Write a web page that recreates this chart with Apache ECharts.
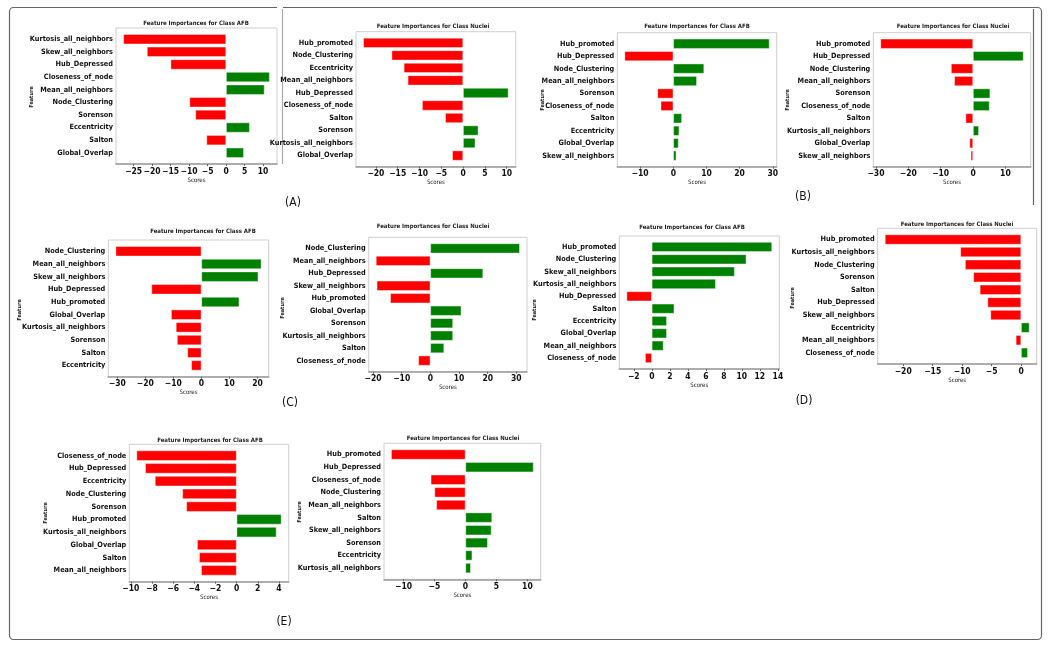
<!DOCTYPE html>
<html>
<head>
<meta charset="utf-8">
<script src="https://cdn.jsdelivr.net/npm/echarts@6/dist/echarts.min.js"></script>
<style>html,body{margin:0;padding:0;background:#fff;}#c{width:1050px;height:648px;}</style>
</head>
<body>
<div id="c"></div>
<script>
// ---- data ----
const A_AFB_cats = ['Kurtosis_all_neighbors','Skew_all_neighbors','Hub_Depressed','Closeness_of_node','Mean_all_neighbors','Node_Clustering','Sorenson','Eccentricity','Salton','Global_Overlap'];
const A_AFB_vals = [-27.8,-21.4,-15.0,11.8,10.4,-9.9,-8.3,6.4,-5.3,4.8];
const A_NUC_cats = ['Hub_promoted','Node_Clustering','Eccentricity','Mean_all_neighbors','Hub_Depressed','Closeness_of_node','Salton','Sorenson','Kurtosis_all_neighbors','Global_Overlap'];
const A_NUC_vals = [-22.9,-16.4,-13.6,-12.7,10.4,-9.4,-4.1,3.5,2.8,-2.5];
const B_AFB_cats = ['Hub_promoted','Hub_Depressed','Node_Clustering','Mean_all_neighbors','Sorenson','Closeness_of_node','Salton','Eccentricity','Global_Overlap','Skew_all_neighbors'];
const B_AFB_vals = [29.0,-14.7,9.3,7.1,-4.8,-3.8,2.6,1.8,1.6,0.9];
const B_NUC_cats = ['Hub_promoted','Hub_Depressed','Node_Clustering','Mean_all_neighbors','Sorenson','Closeness_of_node','Salton','Kurtosis_all_neighbors','Global_Overlap','Skew_all_neighbors'];
const B_NUC_vals = [-28.6,15.6,-6.8,-5.8,5.3,5.1,-2.3,1.8,-1.1,-0.7];
const C_AFB_cats = ['Node_Clustering','Mean_all_neighbors','Skew_all_neighbors','Hub_Depressed','Hub_promoted','Global_Overlap','Kurtosis_all_neighbors','Sorenson','Salton','Eccentricity'];
const C_AFB_vals = [-30.6,21.4,20.3,-17.8,13.5,-10.8,-9.1,-8.7,-5.0,-3.6];
const C_NUC_cats = ['Node_Clustering','Mean_all_neighbors','Hub_Depressed','Skew_all_neighbors','Hub_promoted','Global_Overlap','Sorenson','Kurtosis_all_neighbors','Salton','Closeness_of_node'];
const C_NUC_vals = [31.2,-19.0,18.4,-18.7,-14.0,10.8,7.9,7.9,4.8,-4.2];
const D_AFB_cats = ['Hub_promoted','Node_Clustering','Skew_all_neighbors','Kurtosis_all_neighbors','Hub_Depressed','Salton','Eccentricity','Global_Overlap','Mean_all_neighbors','Closeness_of_node'];
const D_AFB_vals = [13.35,10.5,9.2,7.1,-2.8,2.5,1.67,1.67,1.3,-0.74];
const D_NUC_cats = ['Hub_promoted','Kurtosis_all_neighbors','Node_Clustering','Sorenson','Salton','Hub_Depressed','Skew_all_neighbors','Eccentricity','Mean_all_neighbors','Closeness_of_node'];
const D_NUC_vals = [-23.1,-10.3,-9.5,-8.1,-7.0,-5.7,-5.2,1.42,-0.9,1.14];
const E_AFB_cats = ['Closeness_of_node','Hub_Depressed','Eccentricity','Node_Clustering','Sorenson','Hub_promoted','Kurtosis_all_neighbors','Global_Overlap','Salton','Mean_all_neighbors'];
const E_AFB_vals = [-9.46,-8.64,-7.72,-5.13,-4.75,4.24,3.77,-3.73,-3.54,-3.35];
const E_NUC_cats = ['Hub_promoted','Hub_Depressed','Closeness_of_node','Node_Clustering','Mean_all_neighbors','Salton','Skew_all_neighbors','Sorenson','Eccentricity','Kurtosis_all_neighbors'];
const E_NUC_vals = [-12.0,11.0,-5.6,-5.0,-4.7,4.3,4.2,3.6,1.1,0.86];

const A_AFB_ticks = [-25,-20,-15,-10,-5,0,5,10];
const A_NUC_ticks = [-20,-15,-10,-5,0,5,10];
const B_AFB_ticks = [-10,0,10,20,30];
const B_NUC_ticks = [-30,-20,-10,0,10];
const C_AFB_ticks = [-30,-20,-10,0,10,20];
const C_NUC_ticks = [-20,-10,0,10,20,30];
const D_AFB_ticks = [-2,0,2,4,6,8,10,12,14];
const D_NUC_ticks = [-20,-15,-10,-5,0];
const E_AFB_ticks = [-10,-8,-6,-4,-2,0,2,4];
const E_NUC_ticks = [-10,-5,0,5,10];

const TITLE_AFB = 'Feature Importances for Class AFB';
const TITLE_NUC = 'Feature Importances for Class Nuclei';
const panelLabels = ['(A)','(B)','(C)','(D)','(E)'];

// ---- layout ----
const FONT = "'DejaVu Sans Condensed','Liberation Sans Narrow','Liberation Sans',sans-serif";
const panels = [
  {cats:A_AFB_cats, vals:A_AFB_vals, ticks:A_AFB_ticks, title:TITLE_AFB, box:[116,28,277,164], tt:[196,23.5], feat:[32,97]},
  {cats:A_NUC_cats, vals:A_NUC_vals, ticks:A_NUC_ticks, title:TITLE_NUC, box:[356,31.7,515.7,166.7], tt:[433,26], feat:null},
  {cats:B_AFB_cats, vals:B_AFB_vals, ticks:B_AFB_ticks, title:TITLE_AFB, box:[617.3,32.7,776.7,166.7], tt:[697,26.5], feat:[543,100]},
  {cats:B_NUC_cats, vals:B_NUC_vals, ticks:B_NUC_ticks, title:TITLE_NUC, box:[873.3,32.7,1030.7,166.7], tt:[953,26], feat:[788,100]},
  {cats:C_AFB_cats, vals:C_AFB_vals, ticks:C_AFB_ticks, title:TITLE_AFB, box:[108.3,240,268.7,376.7], tt:[203,231], feat:[20,310]},
  {cats:C_NUC_cats, vals:C_NUC_vals, ticks:C_NUC_ticks, title:TITLE_NUC, box:[368.7,237.3,527,371.7], tt:[433,226], feat:[283,308]},
  {cats:D_AFB_cats, vals:D_AFB_vals, ticks:D_AFB_ticks, title:TITLE_AFB, box:[619.3,236,779.3,369], tt:[692,227.5], feat:[535,310]},
  {cats:D_NUC_cats, vals:D_NUC_vals, ticks:D_NUC_ticks, title:TITLE_NUC, box:[877.7,228.3,1036.7,364], tt:[957,224], feat:[793,298]},
  {cats:E_AFB_cats, vals:E_AFB_vals, ticks:E_AFB_ticks, title:TITLE_AFB, box:[129.3,444.3,288.7,581.7], tt:[210,440], feat:[46,513]},
  {cats:E_NUC_cats, vals:E_NUC_vals, ticks:E_NUC_ticks, title:TITLE_NUC, box:[384,443.3,540.7,579.3], tt:[463,438.5], feat:[300,512]}
];
const labelPos = [[293,203],[803,197],[290,403],[804,401],[284,622]];

const fmt = v => v < 0 ? '\u2212' + Math.abs(v) : String(v);
const grid = [], xAxis = [], yAxis = [], series = [], graphic = [];

panels.forEach((p, i) => {
  const [l, t, r, b] = p.box;
  const W = r - l, H = b - t;
  const g = H * 0.39 / 10.78;
  const lo = Math.min(0, ...p.vals), hi = Math.max(0, ...p.vals);
  const pad = 0.05 * (hi - lo);
  // frame grid
  const fi = grid.length;
  grid.push({left:l, top:t, width:W, height:H, show:true, backgroundColor:'#fff', borderColor:'#cfcfcf', borderWidth:1, z:0});
  xAxis.push({gridIndex:fi, type:'value', position:'top', min:0, max:1, axisLine:{show:true, lineStyle:{color:'#9a9a9a', width:1.6}}, axisTick:{show:false}, axisLabel:{show:false}, splitLine:{show:false}});
  yAxis.push({gridIndex:fi, type:'value', show:false, min:0, max:1});
  // data grid
  const di = grid.length;
  grid.push({left:l, top:t + g, width:W, height:H - 2 * g, show:false});
  xAxis.push({gridIndex:di, type:'value', min:lo - pad, max:hi + pad, offset:g,
    axisLine:{show:false}, splitLine:{show:false},
    axisTick:{show:true, customValues:p.ticks, length:2, lineStyle:{color:'#666'}},
    axisLabel:{customValues:p.ticks, formatter:fmt, margin:3, fontFamily:FONT, fontWeight:'bold', fontSize:8.5, color:'#111'},
    name:'Scores', nameLocation:'middle', nameGap:13, nameTextStyle:{fontFamily:FONT, fontSize:6, color:'#222'}});
  yAxis.push({gridIndex:di, type:'category', inverse:true, data:p.cats,
    axisLine:{show:false}, axisTick:{show:false},
    axisLabel:{margin:3, fontFamily:FONT, fontWeight:'bold', fontSize:7.3, color:'#111'}});
  series.push({type:'bar', xAxisIndex:di, yAxisIndex:di, barWidth:'80%',
    data:p.vals.map(v => ({value:v, itemStyle:{color: v < 0 ? '#ff0000' : '#008000'}})),
    itemStyle:{borderColor:'rgba(255,255,255,0.7)', borderWidth:0.6}, silent:true, animation:false});
  graphic.push({type:'text', x:p.tt[0], y:p.tt[1], style:{text:p.title, font:'bold 6px ' + FONT, fill:'#222', textAlign:'center', textVerticalAlign:'middle'}});
  if (p.feat) graphic.push({type:'text', x:p.feat[0], y:p.feat[1], rotation:Math.PI / 2, style:{text:'Feature', font:'bold 5.5px ' + FONT, fill:'#222', textAlign:'center', textVerticalAlign:'middle'}});
});

labelPos.forEach((pt, i) => graphic.push({type:'text', x:pt[0], y:pt[1], style:{text:panelLabels[i], font:'12px ' + FONT, fill:'#111', textAlign:'center', textVerticalAlign:'middle'}}));
graphic.push({type:'rect', shape:{x:9.5, y:7.5, width:1032, height:632, r:4}, style:{fill:'none', stroke:'#666', lineWidth:1.2}, z:-10});
graphic.push({type:'rect', shape:{x:277, y:5, width:6, height:5}, style:{fill:'#fff'}, z:-9});
graphic.push({type:'line', shape:{x1:282.5, y1:9, x2:282.5, y2:164}, style:{stroke:'#aaa', lineWidth:1.2}, z:-9});
graphic.push({type:'line', shape:{x1:1033.5, y1:9, x2:1033.5, y2:205}, style:{stroke:'#666', lineWidth:1.2}, z:-9});

const chart = echarts.init(document.getElementById('c'), null, {renderer:'canvas'});
chart.setOption({animation:false, backgroundColor:'#fff', grid, xAxis, yAxis, series, graphic});
</script>
</body>
</html>
